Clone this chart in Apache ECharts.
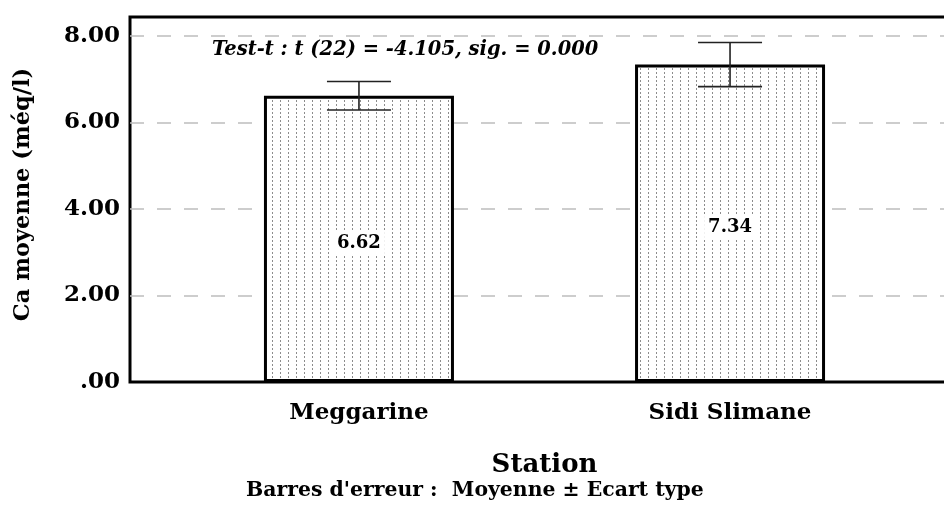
<!DOCTYPE html>
<html><head><meta charset="utf-8">
<script src="https://cdn.jsdelivr.net/npm/echarts@6/dist/echarts.min.js"></script>
<style>html,body{margin:0;padding:0;background:#fff}#c{width:944px;height:522px}</style>
</head><body><div id="c"></div>
<script>
const categories = ['Meggarine', 'Sidi Slimane'];
const means = [6.62, 7.34];
const sds = [0.33, 0.51];
const yTickLabels = ['.00', '2.00', '4.00', '6.00', '8.00'];
const testText = 'Test-t : t (22) = -4.105, sig. = 0.000';
const yTitle = 'Ca moyenne (méq/l)';
const xTitle = 'Station';
const footnote = "Barres d'erreur :  Moyenne \u00b1 Ecart type";

const pc = document.createElement('canvas');
pc.width = 8; pc.height = 4;
const ctx = pc.getContext('2d');
ctx.fillStyle = '#ffffff'; ctx.fillRect(0, 0, 8, 4);
ctx.fillStyle = '#8c8c8c'; ctx.fillRect(0, 0, 1, 2);

const FONT = 'DejaVu Serif';
const chart = echarts.init(document.getElementById('c'), null, {renderer: 'canvas'});
chart.setOption({
  animation: false,
  backgroundColor: '#fff',
  grid: {left: 130, top: 17, width: 829, bottom: 140, show: true, borderColor: '#000', borderWidth: 3,
    outerBoundsMode: 'none', containLabel: false},
  xAxis: {
    type: 'value', min: -0.617, max: 1.617,
    splitLine: {show: false}, axisLine: {show: false}, axisTick: {show: false},
    axisLabel: {customValues: [0, 1], formatter: v => categories[Math.round(v)],
      fontFamily: FONT, fontWeight: 'bold', fontSize: 23, color: '#000', margin: 20},
    name: xTitle, nameLocation: 'middle', nameGap: 70,
    nameTextStyle: {fontFamily: FONT, fontWeight: 'bold', fontSize: 26, color: '#000'}
  },
  yAxis: {
    type: 'value', min: 0, max: 8.44, interval: 2,
    axisLine: {show: false}, axisTick: {show: false},
    axisLabel: {formatter: v => (Math.abs(v % 2) < 1e-9 ? yTickLabels[Math.round(v / 2)] : ''),
      fontFamily: FONT, fontWeight: 'bold', fontSize: 23, color: '#000', margin: 10},
    splitLine: {showMinLine: false, showMaxLine: false, lineStyle: {type: [14, 13], color: '#bdbdbd', width: 1.5}},
    name: yTitle, nameLocation: 'middle', nameGap: 95, nameRotate: 90,
    nameTextStyle: {fontFamily: FONT, fontWeight: 'bold', fontSize: 22.5, color: '#000', padding: [0, 0, 0, 10]}
  },
  series: [
    {
      type: 'bar', barWidth: 190, z: 2,
      data: means.map((m, i) => [i, m]),
      itemStyle: {color: {image: pc, repeat: 'repeat'}, borderColor: '#000', borderWidth: 3},
      label: {show: true, position: 'inside', offset: [0, 4],
        formatter: p => p.value[1].toFixed(2),
        backgroundColor: '#fff', padding: [3, 4],
        fontFamily: FONT, fontWeight: 'bold', fontSize: 18, color: '#000'}
    },
    {
      type: 'custom', z: 3,
      data: means.map((m, i) => [i, m - sds[i], m + sds[i]]),
      encode: {x: 0, y: [1, 2]},
      renderItem: (params, api) => {
        const lo = api.coord([api.value(0), api.value(1)]);
        const hi = api.coord([api.value(0), api.value(2)]);
        const h = 32;
        const st = {stroke: '#222', lineWidth: 1.6};
        return {type: 'group', children: [
          {type: 'line', shape: {x1: lo[0], y1: lo[1], x2: hi[0], y2: hi[1]}, style: st},
          {type: 'line', shape: {x1: hi[0] - h, y1: hi[1], x2: hi[0] + h, y2: hi[1]}, style: st},
          {type: 'line', shape: {x1: lo[0] - h, y1: lo[1], x2: lo[0] + h, y2: lo[1]}, style: st}
        ]};
      }
    }
  ],
  graphic: [
    {type: 'text', left: 212, top: 40, z: 10,
      style: {text: testText, fontFamily: FONT, fontWeight: 'bold', fontStyle: 'italic', fontSize: 19.5, fill: '#000'}},
    {type: 'text', left: 246, top: 481, z: 10,
      style: {text: footnote, fontFamily: FONT, fontWeight: 'bold', fontSize: 20.4, fill: '#000'}}
  ]
});
</script></body></html>
